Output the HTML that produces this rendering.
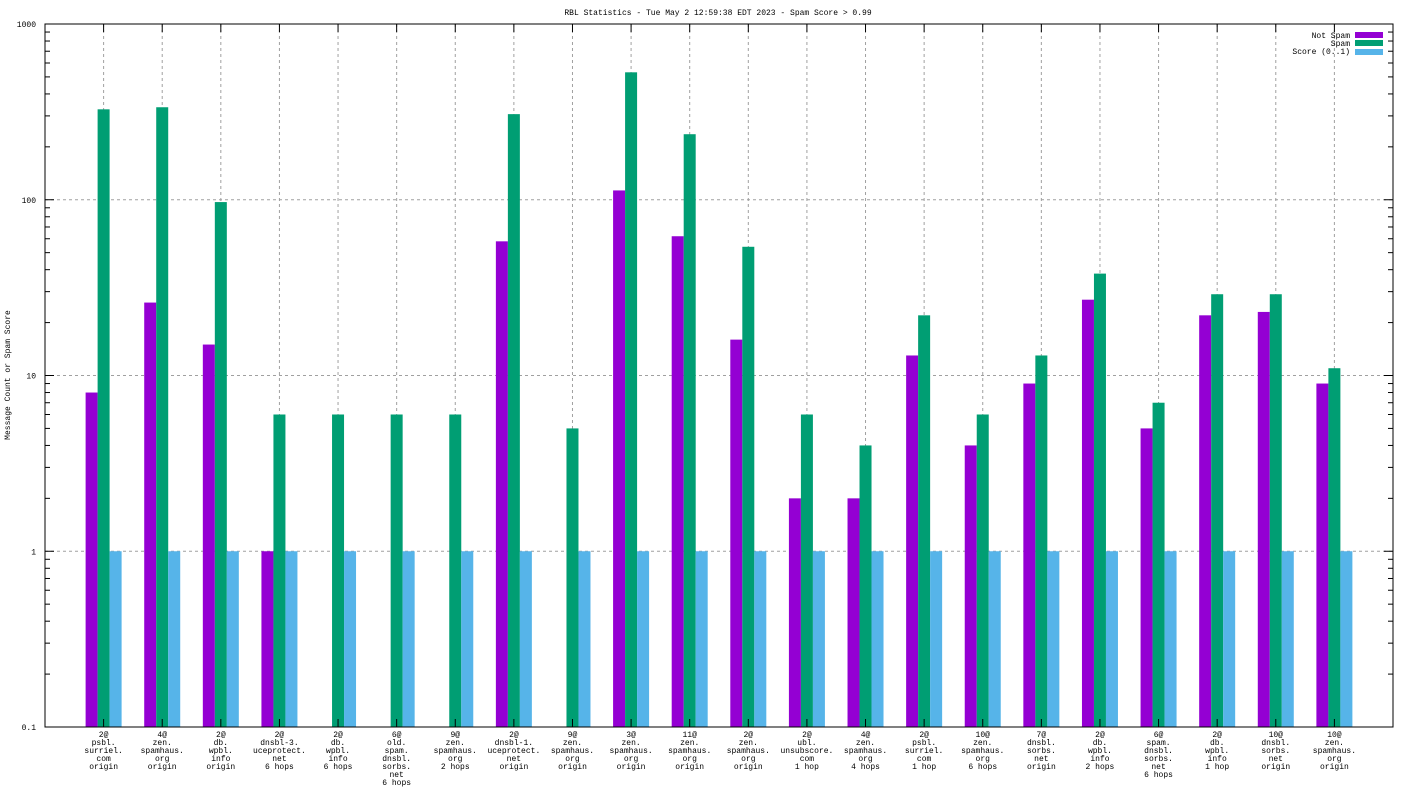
<!DOCTYPE html>
<html><head><meta charset="utf-8"><style>
body{margin:0;background:#fff}
svg text{font-family:"Liberation Mono","DejaVu Sans Mono",monospace;font-size:8px;fill:#000}
</style></head><body>
<svg id="chart" width="1408" height="792" xmlns="http://www.w3.org/2000/svg">
<text x="718" y="15" text-anchor="middle">RBL Statistics - Tue May  2 12:59:38 EDT 2023 - Spam Score &gt; 0.99</text>
<text transform="translate(10,375) rotate(-90)" text-anchor="middle">Message Count or Spam Score</text>
<g id="grid"></g><g id="bars"></g><g id="axes"></g><g id="labels"></g>
<g>
<text x="1350" y="38" text-anchor="end">Not Spam</text><rect x="1355" y="32" width="28" height="6" fill="#9400d3"/>
<text x="1350" y="46" text-anchor="end">Spam</text><rect x="1355" y="40" width="28" height="6" fill="#009e73"/>
<text x="1350" y="54" text-anchor="end">Score (0..1)</text><rect x="1355" y="49" width="28" height="6" fill="#56b4e9"/>
</g>
</svg>
<script>
const categories=[
"2@|psbl.|surriel.|com|origin","4@|zen.|spamhaus.|org|origin","2@|db.|wpbl.|info|origin","2@|dnsbl-3.|uceprotect.|net|6 hops","2@|db.|wpbl.|info|6 hops","6@|old.|spam.|dnsbl.|sorbs.|net|6 hops","9@|zen.|spamhaus.|org|2 hops","2@|dnsbl-1.|uceprotect.|net|origin","9@|zen.|spamhaus.|org|origin","3@|zen.|spamhaus.|org|origin","11@|zen.|spamhaus.|org|origin","2@|zen.|spamhaus.|org|origin","2@|ubl.|unsubscore.|com|1 hop","4@|zen.|spamhaus.|org|4 hops","2@|psbl.|surriel.|com|1 hop","10@|zen.|spamhaus.|org|6 hops","7@|dnsbl.|sorbs.|net|origin","2@|db.|wpbl.|info|2 hops","6@|spam.|dnsbl.|sorbs.|net|6 hops","2@|db.|wpbl.|info|1 hop","10@|dnsbl.|sorbs.|net|origin","10@|zen.|spamhaus.|org|origin"];
const notSpam=[8,26,15,1,0,0,0,58,0,113,62,16,2,2,13,4,9,27,5,22,23,9];
const spam=[327,336,97,6,6,6,6,307,5,531,236,54,6,4,22,6,13,38,7,29,29,11];
const score=[1,1,1,1,1,1,1,1,1,1,1,1,1,1,1,1,1,1,1,1,1,1];
const yTicks=[0.1,1,10,100,1000];
const yTickLabels=["0.1","1","10","100","1000"];
const L=45,R=1393,T=24,B=727;
const NS="http://www.w3.org/2000/svg";
const step=(R-L)/(categories.length+1);
function xs(i){return L+(i+1)*step;}
function ys(v){return B-(Math.log10(v)-Math.log10(0.1))/4*(B-T);}
function mk(tag,attrs,parent){const e=document.createElementNS(NS,tag);for(const k in attrs)e.setAttribute(k,attrs[k]);document.getElementById(parent).appendChild(e);return e;}
yTicks.forEach((v,i)=>{
 const y=ys(v);
 if(i>0&&i<yTicks.length-1){const g=mk('line',{x1:L,x2:R,y1:y,y2:y,stroke:'#a0a0a0','stroke-dasharray':'3,3'},'grid');
 
 }
 const t=mk('text',{x:L-9,y:y+3,'text-anchor':'end'},'labels');t.textContent=yTickLabels[i];
 
 
 mk('line',{x1:L,x2:L+9,y1:y,y2:y,stroke:'#000'},'axes');mk('line',{x1:R,x2:R-9,y1:y,y2:y,stroke:'#000'},'axes');
 if(i<yTicks.length-1){for(let m=2;m<10;m++){const yy=ys(v*m);mk('line',{x1:L,x2:L+5,y1:yy,y2:yy,stroke:'#000'},'axes');mk('line',{x1:R,x2:R-5,y1:yy,y2:yy,stroke:'#000'},'axes');}}
});
categories.forEach((c,i)=>{
 const x=xs(i);
 const g=mk('line',{x1:x,x2:x,y1:T,y2:B,stroke:'#a0a0a0','stroke-dasharray':'3,3'},'grid');
 
 
 mk('line',{x1:x,x2:x,y1:T,y2:T+8,stroke:'#000'},'axes');mk('line',{x1:x,x2:x,y1:B,y2:B-8,stroke:'#000'},'axes');
 const t=mk('text',{x:x,y:737,'text-anchor':'middle'},'labels');
 
 
 c.split('|').forEach((ln,j)=>{const s=document.createElementNS(NS,'tspan');s.setAttribute('x',x);s.setAttribute('dy',j?8:0);s.textContent=ln;t.appendChild(s);});
 const series=[[notSpam,'#9400d3','bar-not-spam',-1],[spam,'#009e73','bar-spam',0],[score,'#56b4e9','bar-score',1]];
 series.forEach(([arr,col,name,off])=>{
  const v=arr[i];if(!(v>0))return;
  const y=ys(v);
  const r=mk('rect',{x:x+off*12-6,y:y,width:12,height:B-y,fill:col},'bars');
  
  
 });
});
const f=mk('rect',{x:L,y:T,width:R-L,height:B-T,fill:'none',stroke:'#000'},'axes');


</script>
</body></html>
